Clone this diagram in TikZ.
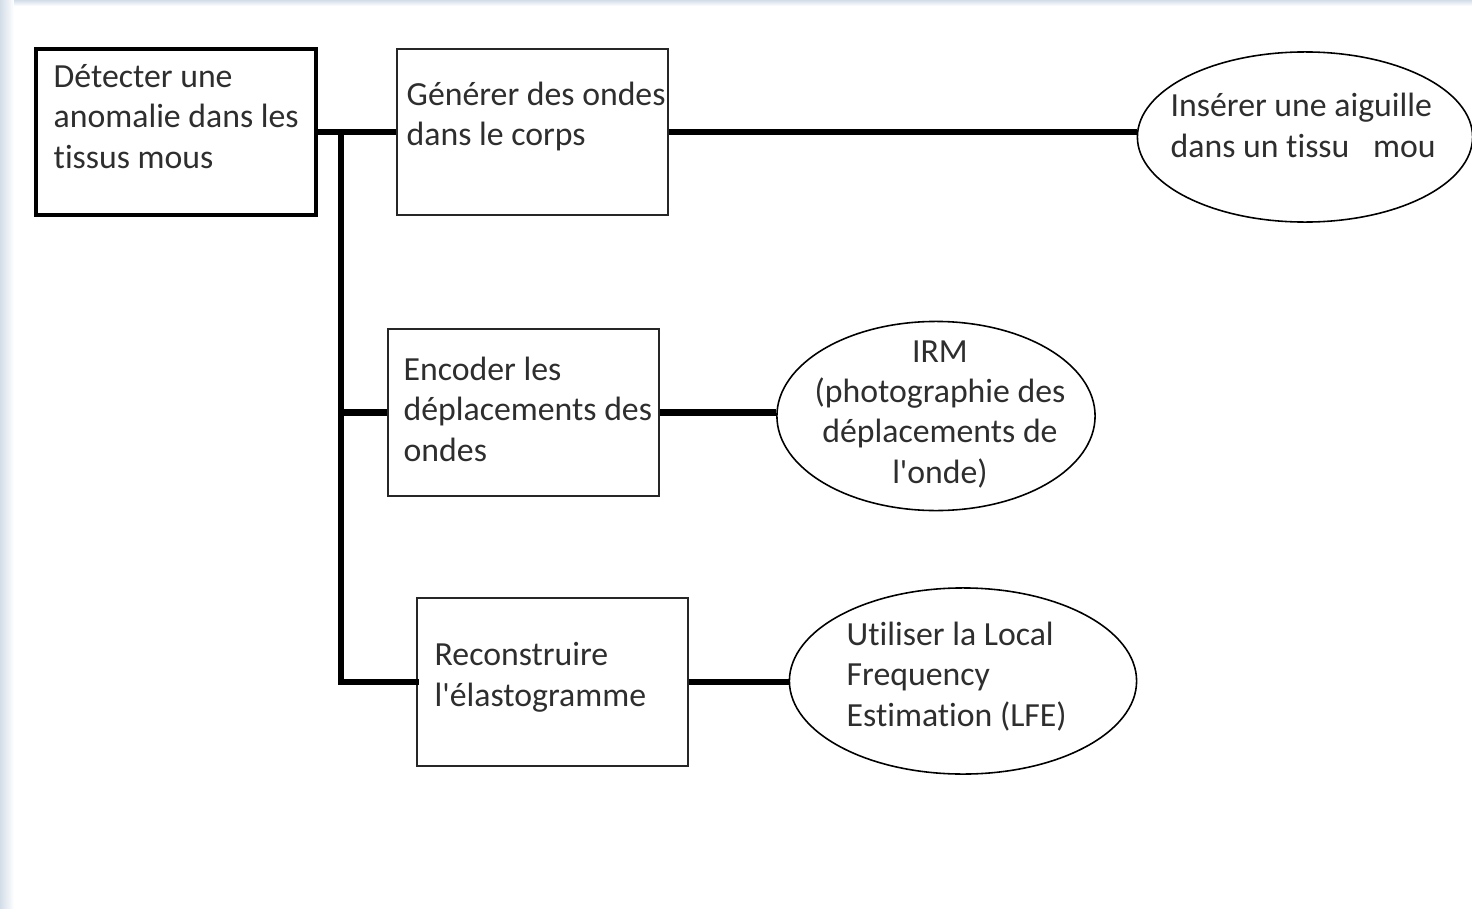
\documentclass[tikz,border=0pt]{standalone}
\usepackage{fontspec}
\setmainfont{Carlito}[Ligatures={TeXOff,CommonOff}]
\usetikzlibrary{shapes.geometric}
\definecolor{txt}{HTML}{2E2E2E}
\definecolor{edge}{HTML}{D3DDE8}
\tikzset{
  boxA/.style={draw=black, line width=1.2pt, rectangle, inner sep=0pt},
  boxn/.style={draw=black!85, line width=0.6pt, rectangle, inner sep=0pt},
  ell/.style={draw=black, line width=0.45pt, ellipse, inner sep=0pt},
  lbl/.style={inner sep=0pt, text=txt, align=left, font=\fontsize{9.6pt}{11.4pt}\selectfont},
  conn/.style={line width=1.85pt, black},
}
\begin{document}
\begin{tikzpicture}[x=0.01cm, y=-0.01cm]
\useasboundingbox (0,0) rectangle (1472,909);
\fill[white] (0,0) rectangle (1472,909);
\shade[left color=edge, right color=white] (0,0) rectangle (14,909);
\shade[top color=edge, bottom color=white] (14,0) rectangle (1472,6);

% shapes
\node[boxA, minimum width=2.8cm, minimum height=1.66cm] (A) at (176,132) {};
\node[boxn, minimum width=2.71cm, minimum height=1.66cm] (B) at (532.5,132) {};
\node[ell, minimum width=3.35cm, minimum height=1.70cm] (C) at (1305,137) {};
\node[boxn, minimum width=2.71cm, minimum height=1.67cm] (D) at (523.5,412.5) {};
\node[ell, minimum width=3.18cm, minimum height=1.89cm] (E) at (936,416) {};
\node[boxn, minimum width=2.71cm, minimum height=1.68cm] (F) at (552.5,682) {};
\node[ell, minimum width=3.47cm, minimum height=1.86cm] (G) at (963,681) {};

% texts (base = baseline of last line)
\node[lbl, anchor=base west] (At) at (53,168) {Détecter une\\anomalie dans les\\tissus mous};
\node[lbl, anchor=base west] (Bt) at (406,146) {Générer des ondes\\dans le corps};
\node[lbl, anchor=base west] (Ct) at (1170,157) {Insérer une aiguille\\dans un tissu\hspace{0.7em}mou};
\node[lbl, anchor=base west] (Dt) at (403,461) {Encoder les\\déplacements des\\ondes};
\node[lbl, anchor=base, align=center] (Et) at (940,483) {IRM\\(photographie des\\déplacements de\\l'onde)};
\node[lbl, anchor=base west] (Ft) at (434,706) {Reconstruire\\l'élastogramme};
\node[lbl, anchor=base west] (Gt) at (846,726) {Utiliser la Local\\Frequency\\Estimation (LFE)};

% connectors
\coordinate (t0) at (341,132);
\draw[conn] (A.east) -- (B.west);
\draw[conn] (B.east) -- (B.east -| C.west);
\draw[conn, line cap=rect] (t0) |- (F.west);
\draw[conn] (t0 |- D.west) -- (D.west);
\draw[conn] (D.east) -- (D.east -| E.west);
\draw[conn] (F.east) -- (F.east -| G.west);
\end{tikzpicture}
\end{document}
